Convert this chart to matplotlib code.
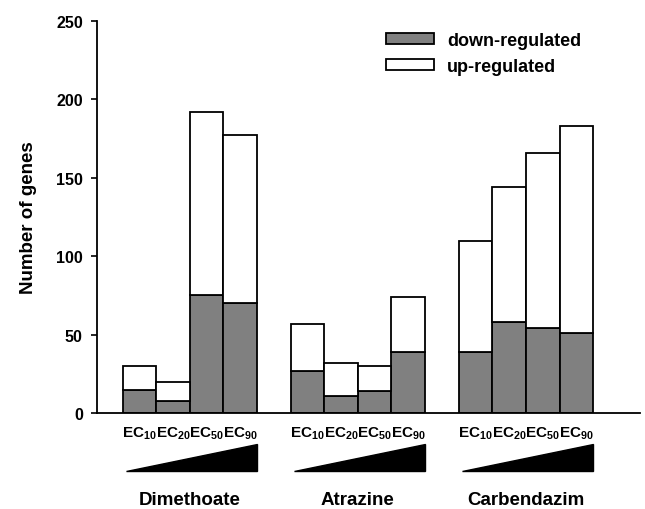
import numpy as np
import matplotlib
matplotlib.use("Agg")
import matplotlib.pyplot as plt
from matplotlib.patches import Polygon, Patch
import matplotlib.transforms as mtransforms

plt.rcParams['font.family'] = ['Liberation Sans', 'DejaVu Sans']
plt.rcParams['font.weight'] = 'bold'
plt.rcParams['mathtext.fontset'] = 'custom'
plt.rcParams['mathtext.rm'] = 'Liberation Sans:bold'
plt.rcParams['mathtext.bf'] = 'Liberation Sans:bold'
plt.rcParams['mathtext.default'] = 'bf'

chemicals = ["Dimethoate", "Atrazine", "Carbendazim"]
doses = ["EC$_{10}$", "EC$_{20}$", "EC$_{50}$", "EC$_{90}$"]
down = [[15, 8, 75, 70],
        [27, 11, 14, 39],
        [39, 58, 54, 51]]
total = [[30, 20, 192, 177],
         [57, 32, 30, 74],
         [110, 144, 166, 183]]

fig = plt.figure(figsize=(6.45, 5.10), dpi=100)
ax = fig.add_axes([0.150, 0.188, 0.842, 0.769])

xs, labels = [], []
for i, chem in enumerate(chemicals):
    x = np.arange(4) + i * 5
    d = np.array(down[i])
    u = np.array(total[i]) - d
    ax.bar(x, d, width=1.0, color='#808080', edgecolor='black', linewidth=1.3)
    ax.bar(x, u, bottom=d, width=1.0, color='white', edgecolor='black', linewidth=1.3)
    xs.extend(x)
    labels.extend(doses)

ax.set_xlim(-1.27, 14.89)
ax.set_ylim(0, 250)
ax.set_yticks(range(0, 251, 50))
ax.set_xticks(xs)
ax.set_xticklabels(labels, fontsize=11)
ax.tick_params(axis='x', length=0, pad=8)
ax.tick_params(axis='y', direction='out', length=4, width=1.2, labelsize=11.5, pad=6)
for s in ['top', 'right']:
    ax.spines[s].set_visible(False)
for s in ['left', 'bottom']:
    ax.spines[s].set_linewidth(1.3)
ax.set_ylabel("Number of genes", fontsize=13.5, fontweight='bold', labelpad=14)

trans = mtransforms.blended_transform_factory(ax.transData, ax.transAxes)
for i, chem in enumerate(chemicals):
    x0 = i * 5 - 0.4
    x1 = i * 5 + 3.5
    wedge = Polygon([(x0, -0.148), (x1, -0.148), (x1, -0.079)], closed=True,
                    facecolor='black', edgecolor='black', transform=trans, clip_on=False)
    ax.add_patch(wedge)
    ax.text(i * 5 + 1.5, -0.219, chem, transform=trans, ha='center', va='center',
            fontsize=13.5, fontweight='bold')

handles = [Patch(facecolor='#808080', edgecolor='black', linewidth=1.3, label='down-regulated'),
           Patch(facecolor='white', edgecolor='black', linewidth=1.3, label='up-regulated')]
ax.legend(handles=handles, loc='upper left', bbox_to_anchor=(0.532, 0.972), frameon=False,
          fontsize=13, handlelength=2.7, handleheight=0.6, borderpad=0, borderaxespad=0,
          labelspacing=0.5, handletextpad=0.7)

fig.savefig("out.png", dpi=100)
